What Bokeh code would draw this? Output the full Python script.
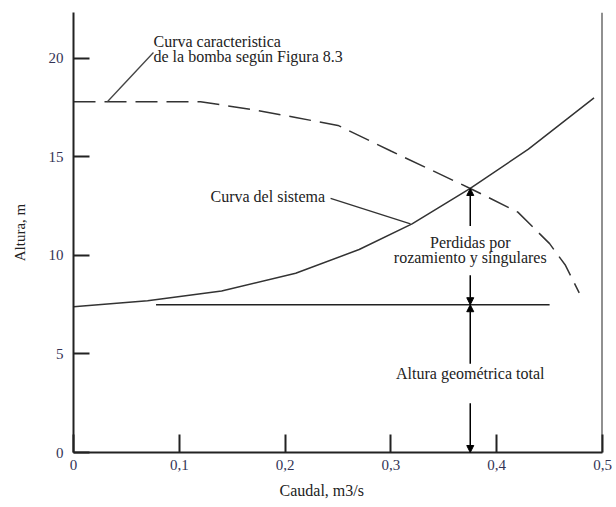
import math
from bokeh.plotting import figure
from bokeh.models import (Range1d, FixedTicker, CustomJSTickFormatter, Label,
                          Arrow, NormalHead, Span, Title)
from bokeh.embed import file_html
from bokeh.resources import INLINE

# ---- data ----
x_ticks = [0, 0.1, 0.2, 0.3, 0.4, 0.5]
y_ticks = [0, 5, 10, 15, 20]

# system curve
sys_q = [0, 0.07, 0.14, 0.21, 0.27, 0.32, 0.375, 0.43, 0.492]
sys_h = [7.4, 7.7, 8.2, 9.1, 10.3, 11.6, 13.4, 15.4, 18.0]

# pump characteristic curve (dashed)
pump_q = [0, 0.12, 0.17, 0.21, 0.25, 0.30, 0.375, 0.42, 0.45, 0.465, 0.478]
pump_h = [17.8, 17.8, 17.4, 17.0, 16.6, 15.3, 13.4, 12.2, 10.6, 9.5, 8.1]

# static head line
static_q = [0.078, 0.45]
static_h = [7.5, 7.5]

# operating point
op_q = 0.375
op_h = 13.4
static_head = 7.5

# leader lines
pump_leader_q = [0.032, 0.0756]
pump_leader_h = [17.8, 20.3]
sys_leader_q = [0.243, 0.3185]
sys_leader_h = [12.9, 11.6]

FONT = "Liberation Serif"

p = figure(width=612, height=506, output_backend="svg", toolbar_location=None,
           x_range=Range1d(0, 0.5), y_range=Range1d(0, 22.33),
           min_border_left=73, min_border_right=10, min_border_top=12,
           min_border_bottom=54)
p.outline_line_color = None
p.grid.visible = False
p.background_fill_color = "white"

for ax, ticks, tin in ((p.xaxis[0], x_ticks, 18), (p.yaxis[0], y_ticks, 16)):
    ax.ticker = FixedTicker(ticks=ticks)
    ax.major_tick_in = tin
    ax.major_tick_out = 0
    ax.minor_tick_line_color = None
    ax.axis_line_width = 2
    ax.major_tick_line_width = 2
    ax.axis_line_color = "#222"
    ax.major_tick_line_color = "#222"
    ax.major_label_text_font = FONT
    ax.major_label_text_font_size = "15px"
    ax.major_label_text_color = "#333355"

p.xaxis.formatter = CustomJSTickFormatter(
    code="return tick == 0 ? '0' : tick.toFixed(1).replace('.', ',');")
p.xaxis.major_label_standoff = 7
p.yaxis.major_label_standoff = 10

p.yaxis.axis_label = "Altura, m"
p.yaxis.axis_label_text_font = FONT
p.yaxis.axis_label_text_font_size = "15px"
p.yaxis.axis_label_text_font_style = "normal"
p.yaxis.axis_label_text_color = "#222"
p.yaxis.axis_label_standoff = 18

p.add_layout(Title(text="Caudal, m3/s", align="left", offset=206,
                   text_font=FONT, text_font_size="16px", text_font_style="normal",
                   text_color="#222", standoff=15), "below")

p.add_layout(Span(location=0.5, dimension="height", line_color="#222", line_width=2))

p.line(sys_q, sys_h, line_color="#333", line_width=1.5)
p.line(pump_q, pump_h, line_color="#333", line_width=1.5, line_dash="22 9")
p.line(static_q, static_h, line_color="#222", line_width=1.5)
p.line(pump_leader_q, pump_leader_h, line_color="#444", line_width=1.3)
p.line(sys_leader_q, sys_leader_h, line_color="#333", line_width=1.3)

def arrow(y0, y1):
    p.add_layout(Arrow(end=NormalHead(size=7, fill_color="black", line_color="black"),
                       x_start=op_q, y_start=y0, x_end=op_q, y_end=y1,
                       line_color="black", line_width=1.5))

arrow(11.5, op_h)
arrow(9.0, static_head)
arrow(4.5, static_head)
arrow(2.5, 0)

def label(x, y, text, align="left", size="16px"):
    p.add_layout(Label(x=x, y=y, text=text, text_font=FONT, text_font_size=size,
                       text_align=align, text_baseline="middle",
                       text_color="#222"))

label(0.0756, 20.86, "Curva caracteristica")
label(0.0756, 20.1, "de la bomba según Figura 8.3")
label(0.1295, 13.0, "Curva del sistema")
label(op_q, 10.66, "Perdidas por", align="center")
label(op_q, 9.9, "rozamiento y singulares", align="center")
label(op_q, 4.0, "Altura geométrica total", align="center")

open("out.html", "w").write(file_html(p, INLINE))
